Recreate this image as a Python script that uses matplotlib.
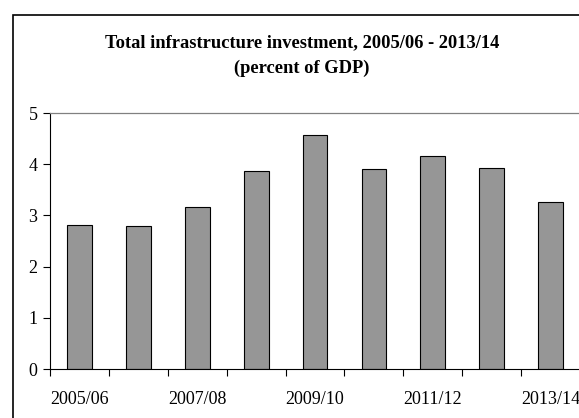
import matplotlib
matplotlib.use("Agg")
import matplotlib.pyplot as plt
from matplotlib.patches import Rectangle

plt.rcParams['font.family'] = ['Liberation Serif', 'DejaVu Serif']

years = ['2005/06', '2006/07', '2007/08', '2008/09', '2009/10',
         '2010/11', '2011/12', '2012/13', '2013/14']
investment = [2.81, 2.80, 3.16, 3.87, 4.58, 3.90, 4.16, 3.92, 3.27]

fig = plt.figure(figsize=(5.79, 4.18), dpi=100)
ax = fig.add_axes([0.0864, 0.1172, 0.9154, 0.6124])

x = list(range(len(years)))
ax.bar(x, investment, width=0.42, color='#969696', edgecolor='black', linewidth=0.8)

ax.set_xlim(-0.5, len(years) - 0.5)
ax.set_ylim(0, 5)
ax.set_yticks([0, 1, 2, 3, 4, 5])

# ticks at category boundaries, labels every other category
ax.set_xticks([i - 0.5 for i in range(len(years) + 1)])
ax.set_xticklabels([])
ax.set_xticks(x[::2], minor=True)
ax.set_xticklabels(years[::2], minor=True)
ax.tick_params(axis='x', which='major', direction='out', length=5, width=0.8)
ax.tick_params(axis='x', which='minor', length=0, pad=16, labelsize=13)
ax.tick_params(axis='y', direction='out', length=5, width=0.8, labelsize=13, pad=4)

ax.spines['right'].set_visible(False)
ax.spines['top'].set_color('#808080')
ax.spines['top'].set_linewidth(0.9)
ax.spines['left'].set_linewidth(0.8)
ax.spines['bottom'].set_linewidth(0.8)

fig.text(0.522, 0.867, 'Total infrastructure investment, 2005/06 - 2013/14\n(percent of GDP)',
         ha='center', va='center', fontsize=13.3, fontweight='bold', linespacing=1.6)

fig.patches.append(Rectangle((0.0233, -0.1), 1.2, 1.064, transform=fig.transFigure,
                             fill=False, edgecolor='black', linewidth=1.2, clip_on=False))

fig.savefig('out.png', dpi=100)
